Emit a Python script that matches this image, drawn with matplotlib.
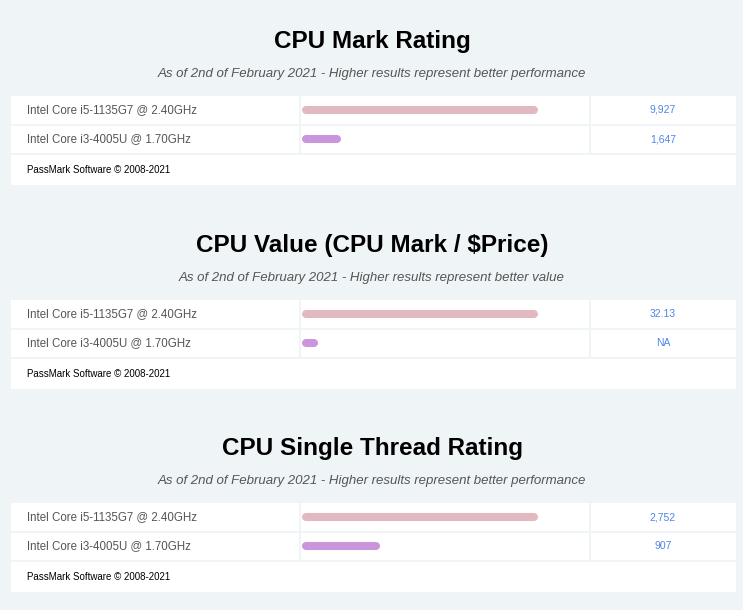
import matplotlib.pyplot as plt
from matplotlib.patches import Rectangle

plt.rcParams['font.family'] = ['Liberation Sans', 'DejaVu Sans']

# chart data
cpu_names = ['Intel Core i5-1135G7 @ 2.40GHz', 'Intel Core i3-4005U @ 1.70GHz']
titles = ['CPU Mark Rating', 'CPU Value (CPU Mark / $Price)', 'CPU Single Thread Rating']
subtitles = [
    'As of 2nd of February 2021 - Higher results represent better performance',
    'As of 2nd of February 2021 - Higher results represent better value',
    'As of 2nd of February 2021 - Higher results represent better performance',
]
mark_scores = [9927, 1647]
value_scores = [32.13, 2.2]      # second CPU has no price -> "NA", tiny bar
single_scores = [2752, 907]
mark_labels = ['9,927', '1,647']
value_labels = ['32.13', 'NA']
single_labels = ['2,752', '907']
footer = 'PassMark Software \u00a9 2008-2021'

panel_scores = [mark_scores, value_scores, single_scores]
panel_labels = [mark_labels, value_labels, single_labels]
bar_colors = ['#e2b9c1', '#ca95dd']

W, H = 743, 610
bg = '#eff4f7'
fig = plt.figure(figsize=(W / 100, H / 100), dpi=100, facecolor=bg)
ax = fig.add_axes([0, 0, 1, 1])
ax.set_xlim(0, W)
ax.set_ylim(H, 0)
ax.axis('off')
ax.set_facecolor(bg)

offsets = [0, 204, 407]


def cell(x0, x1, y0, y1):
    ax.add_patch(Rectangle((x0, y0), x1 - x0, y1 - y0, facecolor='white', edgecolor='none'))


for p, off in enumerate(offsets):
    ax.text(372, 41.5 + off, titles[p], ha='center', va='center', fontsize=17.5,
            fontweight='bold', color='black')
    ax.text(372, 74 + off, subtitles[p], ha='center', va='center', fontsize=9.5,
            style='italic', color='#555555')

    rows = [(96 + off, 124 + off), (125.5 + off, 153 + off)]
    for r, (y0, y1) in enumerate(rows):
        cell(11, 299, y0, y1)
        cell(301, 589, y0, y1)
        cell(591, 736, y0, y1)
        ax.text(27, (y0 + y1) / 2, cpu_names[r], ha='left', va='center',
                fontsize=8.3, color='#555555')
        ax.text(663, (y0 + y1) / 2, panel_labels[p][r], ha='center', va='center',
                fontsize=7.5, color='#4f86e8')
    cell(11, 736, 154.5 + off, 185 + off)
    ax.text(27, 170 + off, footer, ha='left', va='center', fontsize=7.0, color='black')

    # bars in their own axes, x scaled to the panel's max score
    scores = panel_scores[p]
    bx0, bx1 = 302, 538
    by0, by1 = 95.5 + off, 153.5 + off
    bax = fig.add_axes([bx0 / W, 1 - by1 / H, (bx1 - bx0) / W, (by1 - by0) / H])
    bax.set_xlim(0, max(scores))
    bax.set_ylim(1.5, -0.5)
    bax.axis('off')
    cap = max(scores) * 4 / (bx1 - bx0)   # half the line width, for the round caps
    for i, v in enumerate(scores):
        bax.plot([cap, v - cap], [i, i], color=bar_colors[i], linewidth=5.8,
                 solid_capstyle='round', clip_on=False)

fig.savefig('out.png', dpi=100, facecolor=bg)
